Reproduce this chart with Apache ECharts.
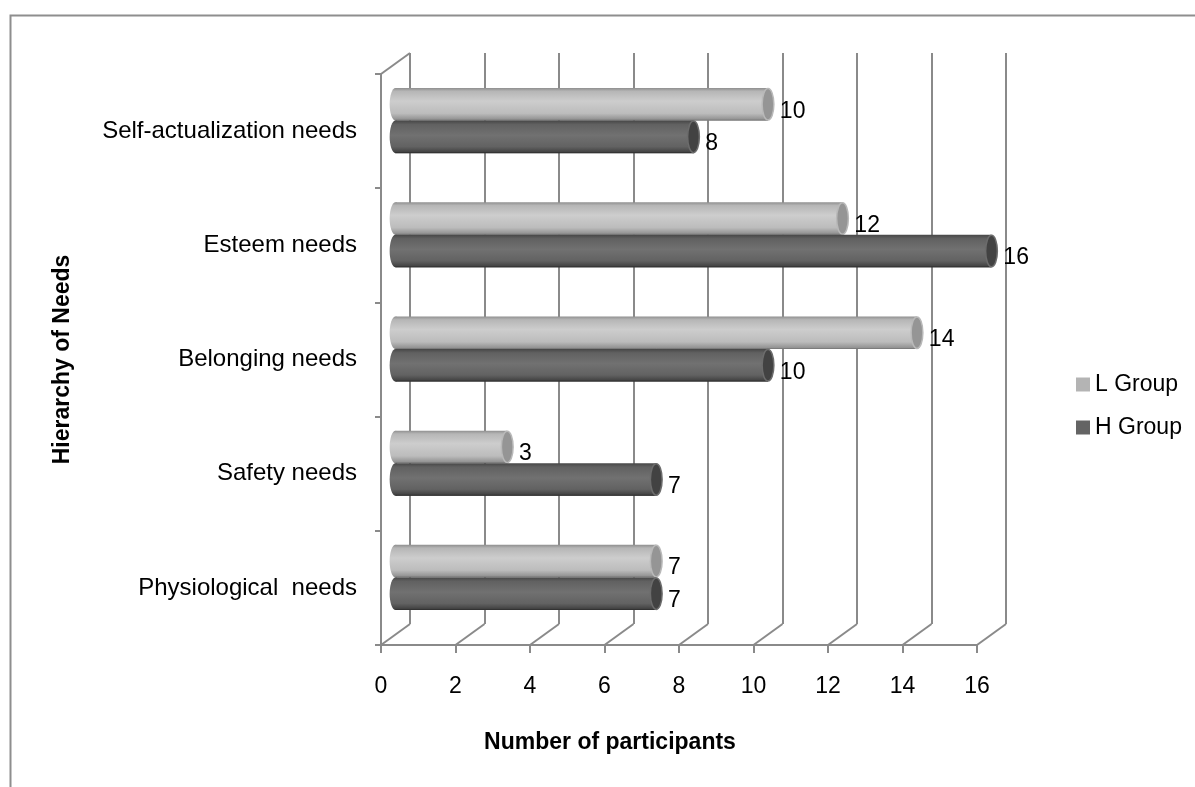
<!DOCTYPE html>
<html>
<head>
<meta charset="utf-8">
<script src="https://cdn.jsdelivr.net/npm/echarts@6/dist/echarts.min.js"></script>
<style>
  html, body { margin: 0; padding: 0; background: #ffffff; }
  #chart { width: 1195px; height: 787px; }
</style>
</head>
<body>
<div id="chart"></div>
<script>
// Hierarchy-of-needs categories, bottom to top
const needs = ['Physiological  needs', 'Safety needs', 'Belonging needs', 'Esteem needs', 'Self-actualization needs'];
// Number of participants per group
const lGroup = [7, 3, 14, 12, 10];
const hGroup = [7, 7, 10, 16, 8];
// Value-axis tick positions
const participantTicks = [0, 2, 4, 6, 8, 10, 12, 14, 16];
const groupNames = ['L Group', 'H Group'];

const FONT = 'Liberation Sans';
const LINE = '#8a8a8a';
// The 3-D box: the back wall sits up and to the right of the front plane
const DEPTH_X = 29, DEPTH_Y = -21;
const FRONT = { left: 381, top: 74, width: 596, height: 571 };

function planeGrid(f) {
  return {
    left: FRONT.left + f * DEPTH_X,
    top: FRONT.top + f * DEPTH_Y,
    width: FRONT.width,
    height: FRONT.height,
    containLabel: false
  };
}

const lineStyle = { color: LINE, width: 2 };

// Horizontal cylinder for one group; side = -1 upper bar, +1 lower bar
function cylinderSeries(name, values, side, look) {
  return {
    type: 'custom',
    name: name,
    xAxisIndex: 2,
    yAxisIndex: 2,
    itemStyle: { color: look.legend },
    encode: { x: 0, y: 1 },
    data: values.map((v, i) => [v, i]),
    z: 5,
    renderItem(params, api) {
      const v = api.value(0);
      const c = api.value(1);
      const start = api.coord([0, c]);
      const end = api.coord([v, c]);
      const band = api.size([0, 1])[1];
      const h = band * 0.285;
      const yc = start[1] + side * h / 2;
      const rx = h * 0.18;
      const body = new echarts.graphic.LinearGradient(0, 0, 0, 1, look.body);
      return {
        type: 'group',
        children: [
          { type: 'ellipse', shape: { cx: start[0], cy: yc, rx: rx, ry: h / 2 }, style: { fill: body } },
          { type: 'rect', shape: { x: start[0], y: yc - h / 2, width: end[0] - start[0], height: h }, style: { fill: body } },
          { type: 'line', shape: { x1: start[0], y1: yc + h / 2 - 0.5, x2: end[0], y2: yc + h / 2 - 0.5 }, style: { stroke: look.edge, lineWidth: 1 } },
          { type: 'ellipse', shape: { cx: end[0], cy: yc, rx: rx, ry: h / 2 - 0.5 }, style: { fill: look.cap, stroke: look.rim, lineWidth: 1.5 } },
          {
            type: 'text',
            style: {
              text: String(v),
              x: end[0] + rx + 6,
              y: yc + 7,
              align: 'left',
              verticalAlign: 'middle',
              fontSize: 23,
              fontFamily: FONT,
              fill: '#000000'
            }
          }
        ]
      };
    }
  };
}

const lightLook = {
  legend: '#b4b4b4',
  body: [
    { offset: 0, color: '#8f8f8f' },
    { offset: 0.1, color: '#b6b6b6' },
    { offset: 0.4, color: '#cdcdcd' },
    { offset: 0.78, color: '#bcbcbc' },
    { offset: 1, color: '#8a8a8a' }
  ],
  edge: '#7c7c7c',
  cap: '#959595',
  rim: '#b9b9b9'
};
const darkLook = {
  legend: '#646464',
  body: [
    { offset: 0, color: '#474747' },
    { offset: 0.12, color: '#616161' },
    { offset: 0.45, color: '#717171' },
    { offset: 0.8, color: '#626262' },
    { offset: 1, color: '#3c3c3c' }
  ],
  edge: '#333333',
  cap: '#424242',
  rim: '#6c6c6c'
};

// Floor edges running from the front axis back to the wall, plus the top-left wall edge
const depthEdges = {
  type: 'custom',
  xAxisIndex: 0,
  yAxisIndex: 0,
  silent: true,
  z: 1,
  encode: { x: 0, y: 1 },
  data: participantTicks.map(t => [t, 0]),
  renderItem(params, api) {
    const cs = params.coordSys;
    const x = api.coord([api.value(0), 0])[0];
    const floor = cs.y + cs.height;
    const st = { stroke: LINE, lineWidth: 2 };
    const children = [
      { type: 'line', shape: { x1: x, y1: floor, x2: x + DEPTH_X, y2: floor + DEPTH_Y }, style: st }
    ];
    if (params.dataIndex === 0) {
      children.push({ type: 'line', shape: { x1: cs.x, y1: cs.y, x2: cs.x + DEPTH_X, y2: cs.y + DEPTH_Y }, style: st });
    }
    return { type: 'group', children: children };
  }
};

const chart = echarts.init(document.getElementById('chart'), null, { renderer: 'canvas' });

chart.setOption({
  backgroundColor: '#ffffff',
  animation: false,
  textStyle: { fontFamily: FONT },
  graphic: [
    {
      type: 'rect',
      left: 8,
      top: 13,
      shape: { width: 1300, height: 900 },
      style: { fill: 'none', stroke: '#8e8e8e', lineWidth: 2 },
      z: -1
    },
    {
      type: 'text',
      x: 610,
      y: 743,
      style: {
        text: 'Number of participants',
        align: 'center',
        verticalAlign: 'middle',
        fontSize: 23,
        fontWeight: 'bold',
        fontFamily: FONT,
        fill: '#000000'
      }
    }
  ],
  legend: {
    data: groupNames,
    orient: 'vertical',
    left: 1071,
    top: 368,
    itemWidth: 14,
    itemHeight: 14,
    itemGap: 20,
    icon: 'rect',
    textStyle: { fontSize: 23, fontFamily: FONT, color: '#000000' }
  },
  grid: [planeGrid(0), planeGrid(1), planeGrid(0.5)],
  xAxis: [
    {
      gridIndex: 0,
      type: 'value',
      min: 0,
      max: 16,
      interval: 2,
      axisLine: { show: true, lineStyle: lineStyle },
      axisTick: { show: true, length: 8, lineStyle: lineStyle },
      axisLabel: { margin: 30, fontSize: 23, color: '#000000', fontFamily: FONT },
      splitLine: { show: false }
    },
    {
      gridIndex: 1,
      type: 'value',
      min: 0,
      max: 16,
      interval: 2,
      axisLine: { show: false },
      axisTick: { show: false },
      axisLabel: { show: false },
      splitLine: { show: true, lineStyle: lineStyle }
    },
    {
      gridIndex: 2,
      type: 'value',
      min: 0,
      max: 16,
      interval: 2,
      show: false
    }
  ],
  yAxis: [
    {
      gridIndex: 0,
      type: 'category',
      data: needs,
      axisLine: { show: true, lineStyle: lineStyle },
      axisTick: { show: true, length: 6, lineStyle: lineStyle },
      axisLabel: { margin: 24, fontSize: 24, color: '#000000', fontFamily: FONT, interval: 0 },
      splitLine: { show: false },
      name: 'Hierarchy of Needs',
      nameLocation: 'middle',
      nameGap: 307,
      nameRotate: 90,
      nameTextStyle: { fontSize: 23, fontWeight: 'bold', color: '#000000', fontFamily: FONT }
    },
    {
      gridIndex: 1,
      type: 'category',
      data: needs,
      show: false
    },
    {
      gridIndex: 2,
      type: 'category',
      data: needs,
      show: false
    }
  ],
  series: [
    depthEdges,
    cylinderSeries(groupNames[0], lGroup, -1, lightLook),
    cylinderSeries(groupNames[1], hGroup, 1, darkLook)
  ]
});
</script>
</body>
</html>
